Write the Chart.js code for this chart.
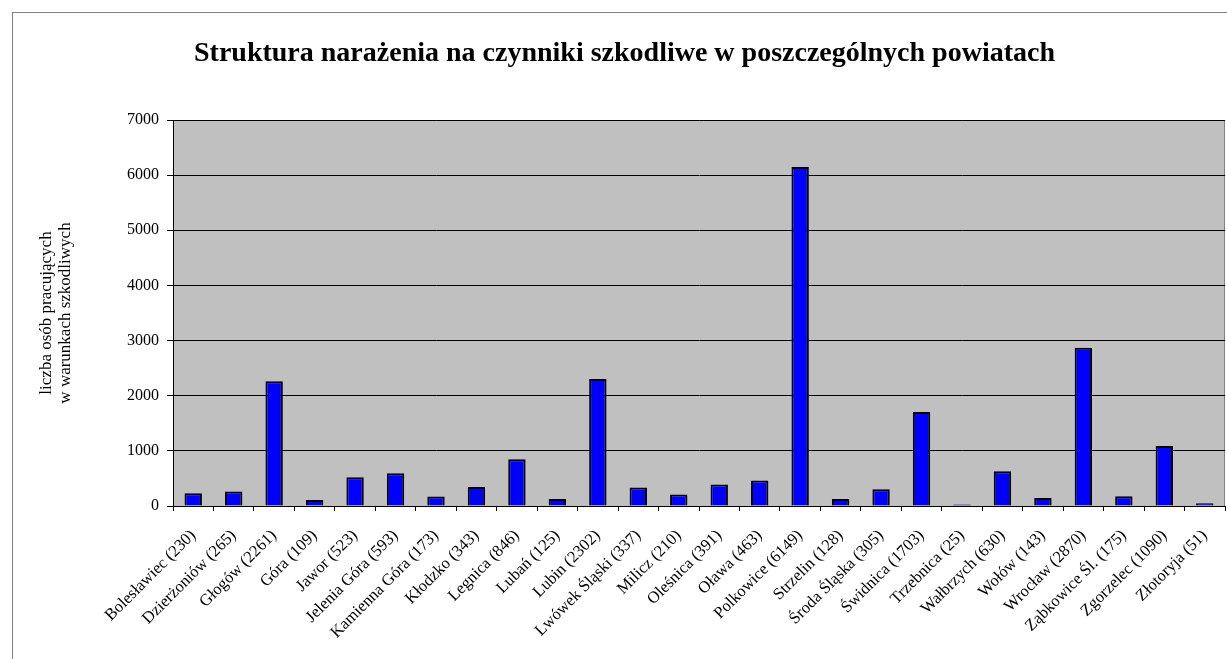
<!DOCTYPE html>
<html>
<head>
<meta charset="utf-8">
<script src="https://cdn.jsdelivr.net/npm/chart.js@4/dist/chart.umd.min.js"></script>
<style>
  html, body { margin: 0; padding: 0; background: #fff; }
  #wrap { position: relative; width: 1227px; height: 659px; overflow: hidden; }
  #frame { position: absolute; left: 12px; top: 12px; width: 1230px; height: 660px;
           border-left: 1px solid #808080; border-top: 1px solid #808080; box-sizing: border-box; }
  canvas { position: absolute; left: 0; top: 0; }
</style>
</head>
<body>
<div id="wrap">
  <div id="frame"></div>
  <canvas id="c" width="1227" height="659"></canvas>
</div>
<script>
const titleText = 'Struktura narażenia na czynniki szkodliwe w poszczególnych powiatach';
const yAxisTitle = ['liczba osób pracujących', 'w warunkach szkodliwych'];
const districts = ['Bolesławiec', 'Dzierżoniów', 'Głogów', 'Góra', 'Jawor', 'Jelenia Góra',
  'Kamienna Góra', 'Kłodzko', 'Legnica', 'Lubań', 'Lubin', 'Lwówek Śląski', 'Milicz',
  'Oleśnica', 'Oława', 'Polkowice', 'Strzelin', 'Środa Śląska', 'Świdnica', 'Trzebnica',
  'Wałbrzych', 'Wołów', 'Wrocław', 'Ząbkowice Śl.', 'Zgorzelec', 'Złotoryja'];
const workers = [230, 265, 2261, 109, 523, 593, 173, 343, 846, 125, 2302, 337, 210,
  391, 463, 6149, 128, 305, 1703, 25, 630, 143, 2870, 175, 1090, 51];
const yTicks = [0, 1000, 2000, 3000, 4000, 5000, 6000, 7000];

const labels = districts.map((d, i) => d + ' (' + workers[i] + ')');

const areaBg = {
  id: 'areaBg',
  beforeDraw(chart) {
    const { ctx, chartArea: a } = chart;
    ctx.save();
    ctx.fillStyle = '#C0C0C0';
    ctx.fillRect(a.left, a.top, a.right - a.left, a.bottom - a.top);
    ctx.strokeStyle = '#808080';
    ctx.lineWidth = 1;
    ctx.beginPath();
    ctx.moveTo(a.left, a.top + 0.5);
    ctx.lineTo(a.right - 0.5, a.top + 0.5);
    ctx.lineTo(a.right - 0.5, a.bottom);
    ctx.stroke();
    ctx.restore();
  }
};

new Chart(document.getElementById('c'), {
  type: 'bar',
  data: {
    labels: labels,
    datasets: [{
      data: workers,
      backgroundColor: '#0000FF',
      borderColor: '#000000',
      borderWidth: 2,
      barPercentage: 0.43,
      categoryPercentage: 1.0
    }]
  },
  plugins: [areaBg],
  options: {
    responsive: false,
    animation: false,
    devicePixelRatio: 1,
    layout: { padding: { left: 24, right: 2, top: 0, bottom: 0 } },
    plugins: {
      legend: { display: false },
      tooltip: { enabled: false },
      title: {
        display: true,
        text: titleText,
        color: '#000',
        font: { family: 'Liberation Serif', size: 28, weight: 'bold' },
        padding: { top: 37, bottom: 49.4 }
      }
    },
    scales: {
      x: {
        offset: true,
        grid: { display: true, drawOnChartArea: false, drawTicks: true, tickLength: 5, color: '#000', offset: true },
        border: { display: true, color: '#000', width: 1 },
        ticks: {
          autoSkip: false, maxRotation: 45, minRotation: 45, padding: 15,
          color: '#000', font: { family: 'Liberation Serif', size: 16.5 }
        },
        afterFit(scale) { scale.height = 153; scale.paddingRight = 0; scale.paddingLeft = 0; }
      },
      y: {
        min: 0, max: 7000,
        afterBuildTicks(scale) { scale.ticks = yTicks.map(v => ({ value: v })); },
        grid: { color: '#000', lineWidth: 1, tickLength: 6, drawTicks: true },
        border: { display: true, color: '#000', width: 1 },
        ticks: {
          color: '#000', padding: 8, font: { family: 'Liberation Serif', size: 16 },
          callback: (v) => String(v)
        },
        title: {
          display: true,
          text: yAxisTitle,
          color: '#000',
          font: { family: 'Liberation Serif', size: 17, weight: 'normal', lineHeight: 1.1 },
          padding: { top: 13, bottom: 0 }
        },
        afterFit(scale) { scale.width = 149; }
      }
    }
  }
});
</script>
</body>
</html>
